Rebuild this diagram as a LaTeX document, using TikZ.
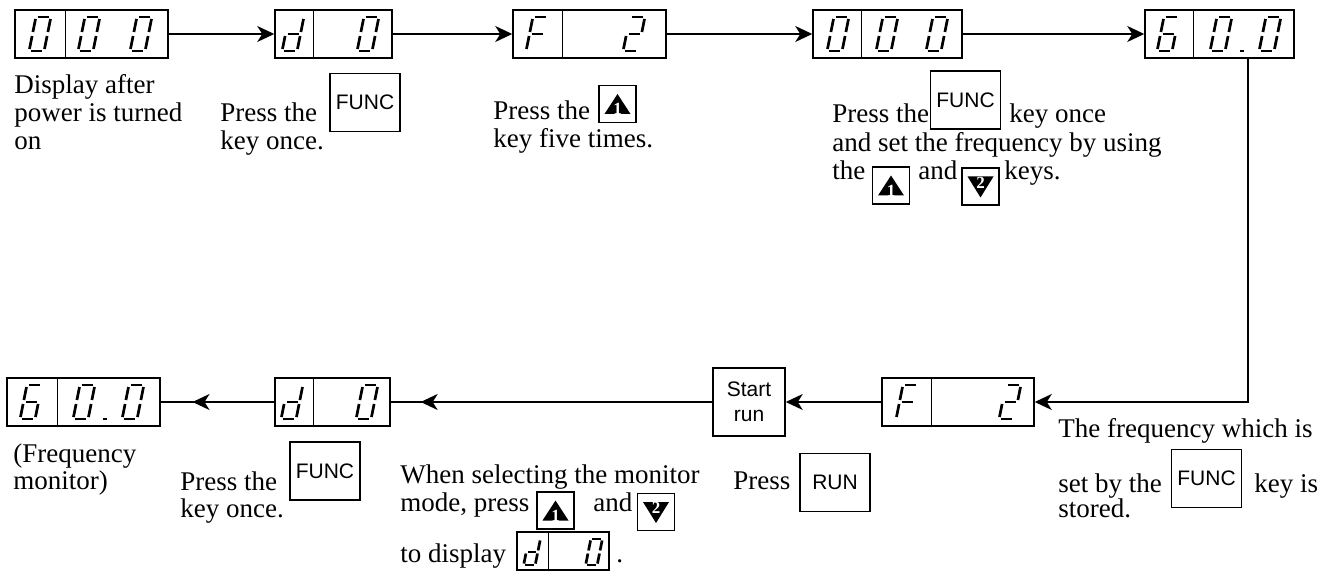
\documentclass[tikz,border=0pt]{standalone}
\usepackage{fontspec}
\setmainfont{Liberation Serif}
\newfontfamily\keyfont{Liberation Sans}
\usetikzlibrary{arrows.meta,decorations.markings}

% segments of one 7-segment cell (px, origin at the cell centre, y down)
\def\segA{(-5.5,-17)--(5.5,-17)}
\def\segB{(7.5,-15)--(7.5,-2)}
\def\segC{(7.5,2)--(7.5,15)}
\def\segD{(-5.5,17)--(5.5,17)}
\def\segE{(-7.5,2)--(-7.5,15)}
\def\segF{(-7.5,-15)--(-7.5,-2)}
\def\segG{(-5.5,0)--(5.5,0)}
\def\segP{(22,17)--(26,17)}
\expandafter\def\csname dig0\endcsname{A,B,C,D,E,F}
\expandafter\def\csname dig0.\endcsname{A,B,C,D,E,F,P}
\expandafter\def\csname digd\endcsname{B,C,D,E,G}
\expandafter\def\csname digF\endcsname{A,E,F,G}
\expandafter\def\csname dig2\endcsname{A,B,D,E,G}
\expandafter\def\csname dig6\endcsname{A,C,D,E,F,G}

\newcommand{\lcdchar}[3][1]{%
  \begin{scope}[shift={#2}, xslant=0.2, scale=#1]
    \expandafter\let\expandafter\seglist\csname dig#3\endcsname
    \foreach \s in \seglist {\draw[seg] \csname seg\s\endcsname;}
  \end{scope}}

% arrow keys
\newcommand{\upkey}[2]{%
  \node[arrowkey] (#1) at #2 {};
  \fill (#1.center) ++(0,-10) -- ++(13,20) -- ++(-26,0) -- cycle;
  \node[keynum] at ([yshift=-2.5pt]#1.center) {1};}
\newcommand{\downkey}[2]{%
  \node[arrowkey] (#1) at #2 {};
  \fill (#1.center) ++(0,11) -- ++(13,-21) -- ++(-26,0) -- cycle;
  \node[keynum] at ([yshift=2pt]#1.center) {2};}

\begin{document}
\begin{tikzpicture}[x=0.5pt, y=-0.5pt,
  every node/.style={font=\fontsize{13.5pt}{14pt}\selectfont},
  lcd/.style={draw, line width=0.75pt, inner sep=0pt, minimum height=24pt},
  seg/.style={line width=1.35pt, line cap=butt},
  keybox/.style={draw, line width=0.75pt, inner sep=0pt, font=\keyfont\fontsize{10.5pt}{12.5pt}\selectfont},
  funckey/.style={keybox, minimum width=35pt, minimum height=29pt},
  arrowkey/.style={keybox, minimum width=18.5pt, minimum height=18.5pt},
  keynum/.style={inner sep=0pt, text=white, font=\bfseries\fontsize{8.5pt}{8.5pt}\selectfont},
  note/.style={anchor=base west, inner sep=0pt},
  conn/.style={line width=0.75pt, -{Stealth[length=8.5pt, width=8pt, inset=2.5pt]}},
  midarrow/.style={line width=0.75pt, decoration={markings, mark=at position #1 with {\arrow{Stealth[length=8.5pt, width=8pt, inset=2.5pt]}}}, postaction={decorate}}]
\useasboundingbox (0,0) rectangle (1336,571);

% top row of displays
\node[lcd, minimum width=76.5pt] (d1) at (91.5,34) {};
\node[lcd, minimum width=58.5pt] (d2) at (333.5,34) {};
\node[lcd, minimum width=76.5pt] (d3) at (589.5,34) {};
\node[lcd, minimum width=74.5pt] (d4) at (887.5,34) {};
\node[lcd, minimum width=74.5pt] (d5) at (1219.5,34) {};
\draw[line width=0.75pt] (d1.north west) ++(51,0) -- ++(0,48);
\draw[line width=0.75pt] (d2.north west) ++(39,0) -- ++(0,48);
\draw[line width=0.75pt] (d3.north west) ++(50,0) -- ++(0,48);
\draw[line width=0.75pt] (d4.north west) ++(49,0) -- ++(0,48);
\draw[line width=0.75pt] (d5.north west) ++(49,0) -- ++(0,48);
\lcdchar{(40,34)}{0} \lcdchar{(89,34)}{0} \lcdchar{(141,34)}{0}
\lcdchar{(293,34)}{d} \lcdchar{(368,34)}{0}
\lcdchar{(537,34)}{F} \lcdchar{(634,34)}{2}
\lcdchar{(838,34)}{0} \lcdchar{(887,34)}{0} \lcdchar{(937,34)}{0}
\lcdchar{(1168,34)}{6} \lcdchar{(1221,34)}{0.} \lcdchar{(1270,34)}{0}

% bottom row
\node[lcd, minimum width=76.5pt] (b1) at (83.5,402) {};
\node[lcd, minimum width=57.5pt] (b2) at (332.5,402) {};
\node[keybox, minimum width=36pt, minimum height=34pt, align=center] (start) at (749,402) {Start\\run};
\node[lcd, minimum width=76pt] (b4) at (958,402) {};
\draw[line width=0.75pt] (b1.north west) ++(51,0) -- ++(0,48);
\draw[line width=0.75pt] (b2.north west) ++(39,0) -- ++(0,48);
\draw[line width=0.75pt] (b4.north west) ++(50,0) -- ++(0,48);
\lcdchar{(31,402)}{6} \lcdchar{(84,402)}{0.} \lcdchar{(133,402)}{0}
\lcdchar{(292,402)}{d} \lcdchar{(367,402)}{0}
\lcdchar{(907,402)}{F} \lcdchar{(1010,402)}{2}

% connectors
\coordinate (turn) at (1248,402);
\draw[conn] (d1) -- (d2);
\draw[conn] (d2) -- (d3);
\draw[conn] (d3) -- (d4);
\draw[conn] (d4) -- (d5);
\draw[conn] (d5.south -| turn) -- (turn) -- (b4.east);
\draw[conn] (b4) -- (start);
\draw[midarrow=0.907] (start) -- (b2);
\draw[midarrow=0.72] (b2) -- (b1);

% keys
\node[funckey] (k1) at (365,102.5) {FUNC};
\upkey{u1}{(617.5,104)}
\node[funckey] (k2) at (965.5,100) {FUNC};
\upkey{u2}{(891,185.5)}
\downkey{w2}{(980.5,186.5)}
\node[funckey] (k3) at (325,471) {FUNC};
\upkey{u3}{(555.5,510.5)}
\downkey{w3}{(656,512)}
\node[funckey] (run) at (835,482.5) {RUN};
\node[funckey] (k4) at (1206.5,478.5) {FUNC};

% small display inside the text
\node[lcd, minimum width=46pt, minimum height=19pt] (ds) at (563,551) {};
\draw[line width=0.75pt] (ds.north west) ++(32,0) -- ++(0,38);
\lcdchar[0.77]{(532,552)}{d} \lcdchar[0.77]{(594,552)}{0}

% texts
\node[note] (t1a) at (14,94) {Display after};
\node[note] (t1b) at (14,122) {power is turned};
\node[note] (t1c) at (14,150) {on};
\node[note] (t2a) at (220,122) {Press the};
\node[note] (t2b) at (220,150) {key once.};
\node[note] (t3a) at (493,120) {Press the};
\node[note] (t3b) at (493,148) {key five times.};
\node[note] (t4a) at (832,123) {Press the};
\node[note] (t4b) at (1009,123) {key once};
\node[note] (t4c) at (832,152) {and set the frequency by using};
\node[note] (t4d) at (832,180) {the};
\node[note] (t4e) at (918,180) {and};
\node[note] (t4f) at (1004,180) {keys.};
\node[note] (t5a) at (13,462) {(Frequency};
\node[note] (t5b) at (13,489) {monitor)};
\node[note] (t6a) at (180,490) {Press the};
\node[note] (t6b) at (180,517) {key once.};
\node[note] (t7a) at (400,483) {When selecting the monitor};
\node[note] (t7b) at (400,511) {mode, press};
\node[note] (t7c) at (593,511) {and};
\node[note] (t7d) at (400,562) {to display};
\node[note] (t7e) at (616,562) {.};
\node[note] (t8) at (733,489) {Press};
\node[note] (t9a) at (1058,437) {The frequency which is};
\node[note] (t9b) at (1058,492) {set by the};
\node[note] (t9c) at (1254,492) {key is};
\node[note] (t9d) at (1058,517) {stored.};
\end{tikzpicture}
\end{document}
